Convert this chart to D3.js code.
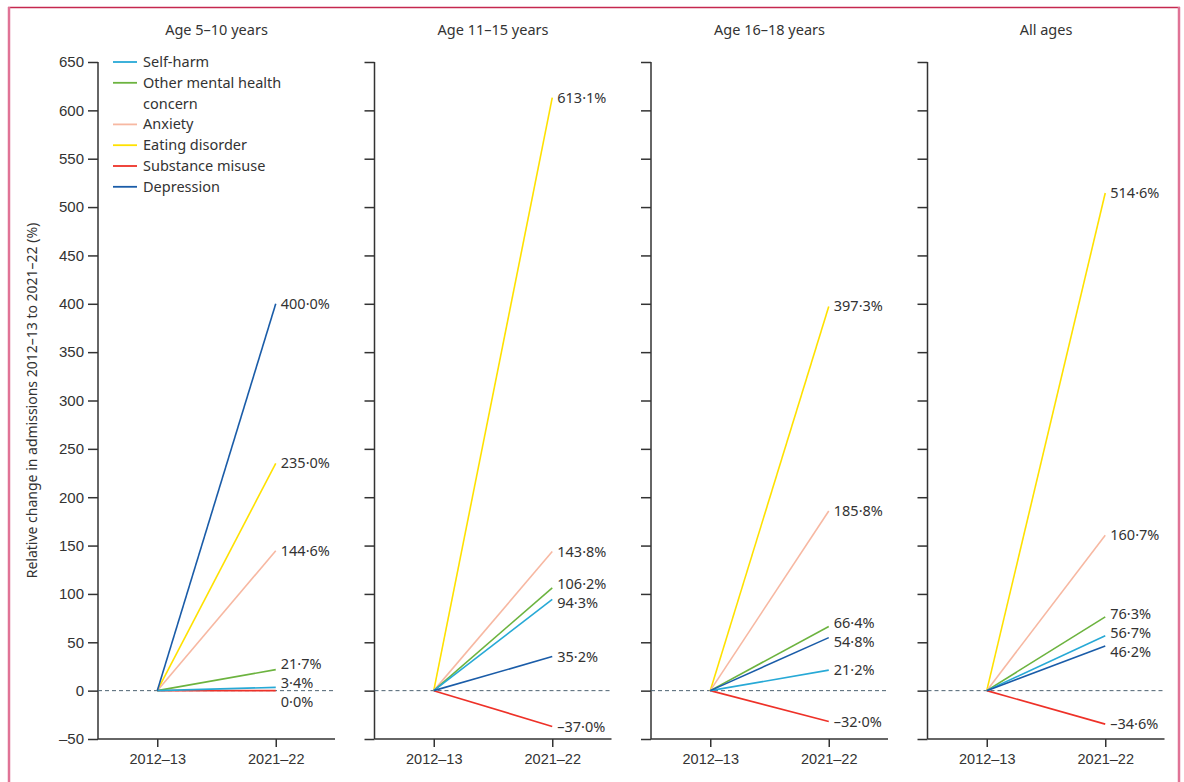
<!DOCTYPE html>
<html>
<head>
<meta charset="utf-8">
<script src="https://cdn.jsdelivr.net/npm/d3@7"></script>
<style>
  body { margin: 0; background: #fff; }
  svg { display: block; font-family: "Noto Sans", "Open Sans", sans-serif; }
</style>
</head>
<body>
<div id="chart"></div>
<script>
const panels = ['Age 5–10 years', 'Age 11–15 years', 'Age 16–18 years', 'All ages'];
const periods = ['2012–13', '2021–22'];
const categories = ['Self-harm', 'Other mental health concern', 'Anxiety', 'Eating disorder', 'Substance misuse', 'Depression'];
const colors = ['#27a9d6', '#6cb33f', '#f7b8a2', '#ffe100', '#ee3128', '#1a5ca8'];

// relative change in 2021-22, per category, one array per panel
const age5to10 = [3.4, 21.7, 144.6, 235.0, 0.0, 400.0];
const age11to15 = [94.3, 106.2, 143.8, 613.1, -37.0, 35.2];
const age16to18 = [21.2, 66.4, 185.8, 397.3, -32.0, 54.8];
const allAges = [56.7, 76.3, 160.7, 514.6, -34.6, 46.2];
const panelValues = [age5to10, age11to15, age16to18, allAges];

const yTicks = [-50, 0, 50, 100, 150, 200, 250, 300, 350, 400, 450, 500, 550, 600, 650];

const width = 1184, height = 782;
const plotTop = 62, plotBottom = 739;
const firstAxisX = 98, panelStep = 276.5, panelWidth = 237;

const svg = d3.select('#chart').append('svg')
    .attr('width', width)
    .attr('height', height);

// frame
svg.append('line')
    .attr('x1', 8).attr('x2', 1180).attr('y1', 7.5).attr('y2', 7.5)
    .attr('stroke', '#c5284f').attr('stroke-width', 1.5);
[9, 1179].forEach(x => {
    svg.append('line')
        .attr('x1', x).attr('x2', x).attr('y1', 7).attr('y2', height)
        .attr('stroke', '#e07396').attr('stroke-width', 2.5);
});

const yScale = d3.scaleLinear().domain([-50, 650]).range([plotBottom, plotTop]);

const fmt = v => (v < 0 ? '–' : '') + d3.format('.1f')(Math.abs(v)).replace('.', '·') + '%';

// push apart labels that would overlap
function placeLabels(items, gap) {
    items.sort((a, b) => a.y - b.y);
    let groups = items.map(d => ({ members: [d] }));
    const layout = g => {
        const mean = d3.mean(g.members, d => d.y);
        const start = mean - (g.members.length - 1) * gap / 2;
        g.members.forEach((d, i) => d.ly = start + i * gap);
    };
    groups.forEach(layout);
    let changed = true;
    while (changed) {
        changed = false;
        for (let i = 0; i < groups.length - 1; i++) {
            const a = groups[i], b = groups[i + 1];
            const aLast = a.members[a.members.length - 1].ly;
            const bFirst = b.members[0].ly;
            if (bFirst - aLast < gap) {
                a.members = a.members.concat(b.members);
                groups.splice(i + 1, 1);
                layout(a);
                changed = true;
                break;
            }
        }
    }
    return items;
}

panels.forEach((title, p) => {
    const x0 = firstAxisX + p * panelStep;
    const g = svg.append('g');

    const xScale = d3.scalePoint()
        .domain(periods)
        .range([x0, x0 + panelWidth])
        .padding(0.5);

    g.append('text')
        .attr('x', (xScale(periods[0]) + xScale(periods[1])) / 2)
        .attr('y', 35)
        .attr('text-anchor', 'middle')
        .style('font-size', '14.5px')
        .attr('fill', '#333')
        .text(title);

    // y axis
    g.append('g')
        .attr('transform', `translate(${x0},0)`)
        .call(d3.axisLeft(yScale).tickValues(yTicks).tickSize(10).tickPadding(4)
            .tickFormat(p === 0 ? (d => d < 0 ? '–' + Math.abs(d) : d) : () => ''))
        .call(a => a.select('.domain').attr('stroke', '#333').attr('stroke-width', 1.5)
            .attr('d', `M0,${plotTop}V${plotBottom}`))
        .call(a => a.selectAll('.tick line').attr('stroke', '#333').attr('stroke-width', 1.5))
        .call(a => a.selectAll('.tick text').attr('fill', '#333')
            .style('font-size', '15px').attr('font-family', 'inherit'));

    // x axis
    g.append('g')
        .attr('transform', `translate(0,${plotBottom})`)
        .call(d3.axisBottom(xScale).tickSize(8).tickPadding(7))
        .call(a => a.select('.domain').attr('stroke', '#333').attr('stroke-width', 1.5)
            .attr('d', `M${x0},0H${x0 + panelWidth}`))
        .call(a => a.selectAll('.tick line').attr('stroke', '#333').attr('stroke-width', 1.5))
        .call(a => a.selectAll('.tick text').attr('fill', '#333')
            .style('font-size', '14.5px').attr('font-family', 'inherit'));

    // zero reference
    g.append('line')
        .attr('x1', x0).attr('x2', x0 + panelWidth)
        .attr('y1', yScale(0)).attr('y2', yScale(0))
        .attr('stroke', '#4d6272').attr('stroke-width', 1)
        .attr('stroke-dasharray', '4,3');

    const values = panelValues[p];
    const rows = categories.map((c, i) => ({ cat: c, color: colors[i], value: values[i] }));

    // draw order: substance misuse beneath self-harm, depression on top
    const drawOrder = [4, 3, 2, 1, 0, 5];
    drawOrder.forEach(i => {
        const r = rows[i];
        g.append('line')
            .attr('x1', xScale(periods[0])).attr('y1', yScale(0))
            .attr('x2', xScale(periods[1])).attr('y2', yScale(r.value))
            .attr('stroke', r.color).attr('stroke-width', 1.6);
    });

    const labels = placeLabels(rows.map(r => ({ value: r.value, y: yScale(r.value) })), 19);
    g.selectAll('.val')
        .data(labels)
        .enter().append('text')
        .attr('class', 'val')
        .attr('x', xScale(periods[1]) + 5)
        .attr('y', d => d.ly)
        .attr('dy', '0.35em')
        .attr('fill', '#333')
        .style('font-size', '14.5px')
        .text(d => fmt(d.value));
});

// legend
const legendRows = [
    { i: 0, lines: ['Self-harm'] },
    { i: 1, lines: ['Other mental health', 'concern'] },
    { i: 2, lines: ['Anxiety'] },
    { i: 3, lines: ['Eating disorder'] },
    { i: 4, lines: ['Substance misuse'] },
    { i: 5, lines: ['Depression'] }
];
const legend = svg.append('g');
let row = 0;
legendRows.forEach(d => {
    const y = 62 + row * 20.8;
    legend.append('line')
        .attr('x1', 113).attr('x2', 137).attr('y1', y).attr('y2', y)
        .attr('stroke', colors[d.i]).attr('stroke-width', 1.8);
    d.lines.forEach((t, k) => {
        legend.append('text')
            .attr('x', 143).attr('y', y + k * 20.8)
            .attr('dy', '0.35em')
            .attr('fill', '#333')
            .style('font-size', '14.5px')
            .text(t);
    });
    row += d.lines.length;
});

// y axis title
svg.append('text')
    .attr('transform', `translate(32,${(plotTop + plotBottom) / 2}) rotate(-90)`)
    .attr('text-anchor', 'middle')
    .attr('dy', '0.35em')
    .attr('fill', '#333')
    .style('font-size', '14px')
    .text('Relative change in admissions 2012–13 to 2021–22 (%)');
</script>
</body>
</html>
